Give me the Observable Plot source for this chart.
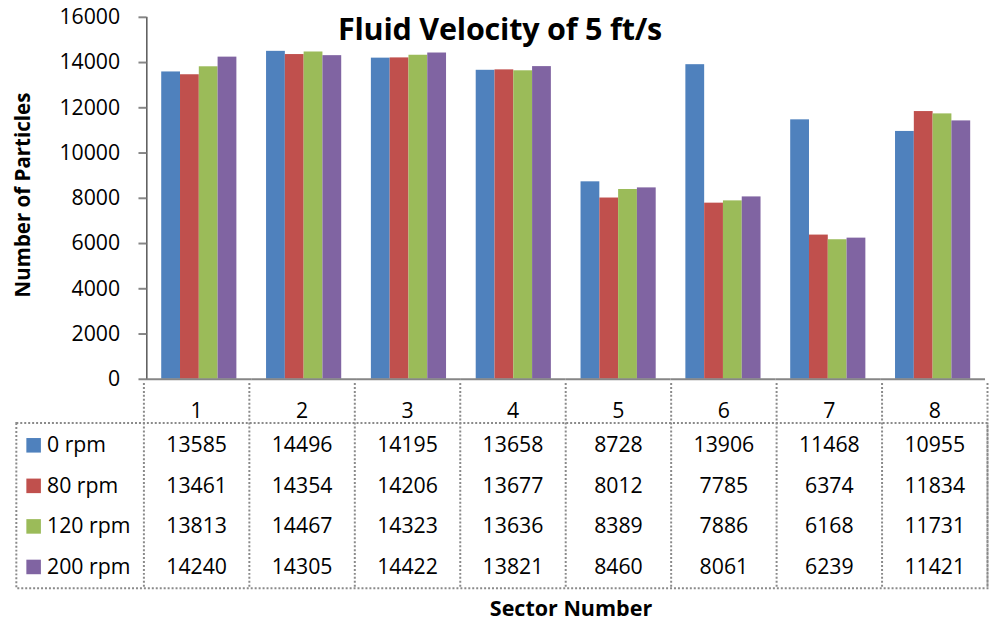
<!DOCTYPE html>
<html>
<head>
<meta charset="utf-8">
<script src="https://cdn.jsdelivr.net/npm/d3@7"></script>
<script src="https://cdn.jsdelivr.net/npm/@observablehq/plot@0.6"></script>
<style>
  html, body { margin: 0; padding: 0; background: #fff; overflow: hidden; }
  #wrap { position: relative; width: 989px; height: 626px; overflow: hidden; font-family: "Open Sans", sans-serif; }
  #p1, #p2 { position: absolute; left: 0; }
  #p1 { top: 0; }
  #p2 { top: 383px; }
  #p1 [aria-label^="y-axis"] line, #p1 [aria-label^="y-axis"] path { stroke: #868686; stroke-width: 2px; }
  .title { position: absolute; left: 0; width: 1000px; text-align: center; top: 13px; font-size: 30.5px; font-weight: bold; line-height: 1; letter-spacing: -0.2px; }
  .ytitle { position: absolute; left: 22px; top: 195px; transform: translate(-50%, -50%) rotate(-90deg); font-size: 20.5px; font-weight: bold; white-space: nowrap; line-height: 1; }
  .xtitle { position: absolute; left: 421px; width: 300px; text-align: center; top: 597px; font-size: 21.5px; font-weight: bold; line-height: 1; }
</style>
</head>
<body>
<div id="wrap">
  <div id="p1"></div>
  <div id="p2"></div>
  <div class="title">Fluid Velocity of 5 ft/s</div>
  <div class="ytitle">Number of Particles</div>
  <div class="xtitle">Sector Number</div>
</div>
<script>
const sectors = [1, 2, 3, 4, 5, 6, 7, 8];
const series = ["0 rpm", "80 rpm", "120 rpm", "200 rpm"];
const rpm0   = [13585, 14496, 14195, 13658, 8728, 13906, 11468, 10955];
const rpm80  = [13461, 14354, 14206, 13677, 8012, 7785, 6374, 11834];
const rpm120 = [13813, 14467, 14323, 13636, 8389, 7886, 6168, 11731];
const rpm200 = [14240, 14305, 14422, 13821, 8460, 8061, 6239, 11421];
const yTicks = [0, 2000, 4000, 6000, 8000, 10000, 12000, 14000, 16000];
const colors = ["#4F81BD", "#C0504D", "#9BBB59", "#8064A2"];

const seriesValues = [rpm0, rpm80, rpm120, rpm200];
const rows = sectors.flatMap((s, i) => series.map((name, j) => ({ sector: s, series: name, value: seriesValues[j][i] })));

const font = { fontFamily: "'Open Sans', sans-serif", fontSize: "21.5px", color: "black", background: "transparent", overflow: "visible" };

const chart = Plot.plot({
  width: 1000, height: 385,
  marginLeft: 145, marginRight: 2, marginTop: 17, marginBottom: 2,
  style: font,
  facet: { data: rows, x: "sector" },
  fx: { domain: sectors, padding: 0, axis: null },
  x: { domain: series, paddingInner: 0, paddingOuter: 0.73, axis: null },
  y: { domain: [0, 16000], ticks: yTicks, tickSize: 8, tickPadding: 19, tickFormat: d => String(d), label: null, line: true },
  color: { domain: series, range: colors },
  marks: [
    Plot.barY(rows, { x: "series", y: "value", fill: "series", inset: 0 }),
    Plot.ruleY([0], { stroke: "#868686", strokeWidth: 2 })
  ]
});
document.getElementById("p1").appendChild(chart);

const dotted = { stroke: "#8a8a8a", strokeWidth: 2, strokeDasharray: "2,2" };
const bounds = [0.5, ...sectors.map(s => s + 0.5)];

const table = Plot.plot({
  width: 1000, height: 210,
  marginLeft: 16, marginRight: 2, marginTop: 40, marginBottom: 3,
  style: font,
  x: { domain: [0.5, 8.5], range: [145, 998], axis: null },
  y: { type: "band", domain: series, padding: 0, axis: null },
  color: { domain: series, range: colors },
  marks: [
    Plot.frame(dotted),
    Plot.ruleX(bounds, { x: d => d, insetTop: -40, ...dotted }),
    Plot.text(sectors, { x: d => d, frameAnchor: "top", dy: -20, text: d => String(d) }),
    Plot.text(rows, { x: "sector", y: "series", text: d => String(d.value) }),
    Plot.dot(series, { y: d => d, frameAnchor: "left", dx: 17.5, symbol: "square", r: 8.3, fill: d => d, stroke: null }),
    Plot.text(series, { y: d => d, frameAnchor: "left", dx: 31, textAnchor: "start", text: d => d })
  ]
});
document.getElementById("p2").appendChild(table);
</script>
</body>
</html>
